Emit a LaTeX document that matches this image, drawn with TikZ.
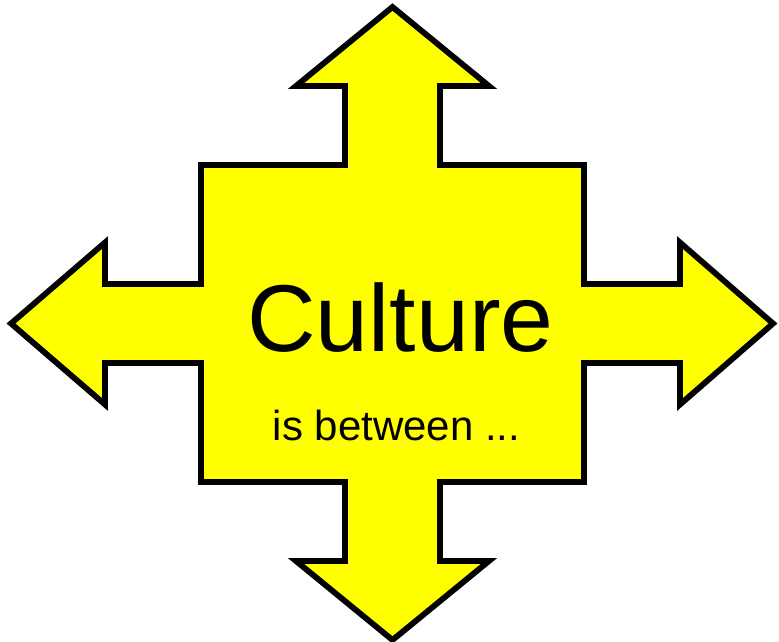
\documentclass[tikz,border=0pt]{standalone}
\usepackage{fontspec}
\setmainfont{Liberation Sans}
\definecolor{arrowyellow}{RGB}{255,255,0}

\begin{document}
\begin{tikzpicture}[x=1pt, y=-1pt,
    crossarrow/.style={fill=arrowyellow, draw=black, line width=5.8pt, line join=miter},
    bigword/.style={anchor=base, inner sep=0pt, font=\fontsize{95}{95}\selectfont},
    smallword/.style={anchor=base, inner sep=0pt, font=\fontsize{42}{42}\selectfont}]
    \useasboundingbox (0,0) rectangle (779,641);

    \draw[crossarrow]
        (392.5,7) -- (489,86) -- (440,86) -- (440,165) -- (584,165)
        -- (584,284) -- (680,284) -- (680,242.5) -- (773,323.5)
        -- (680,404.5) -- (680,363) -- (584,363) -- (584,482)
        -- (440,482) -- (440,561) -- (489,561) -- (392.5,640)
        -- (296,561) -- (345,561) -- (345,482) -- (201,482)
        -- (201,363) -- (105,363) -- (105,404.5) -- (11,323.5)
        -- (105,242.5) -- (105,284) -- (201,284) -- (201,165)
        -- (345,165) -- (345,86) -- (296,86) -- cycle;

    \node[bigword] (culture) at (400.5,351) {Culture};
    \node[smallword] (between) at (396.5,440) {is between ...};
\end{tikzpicture}
\end{document}
